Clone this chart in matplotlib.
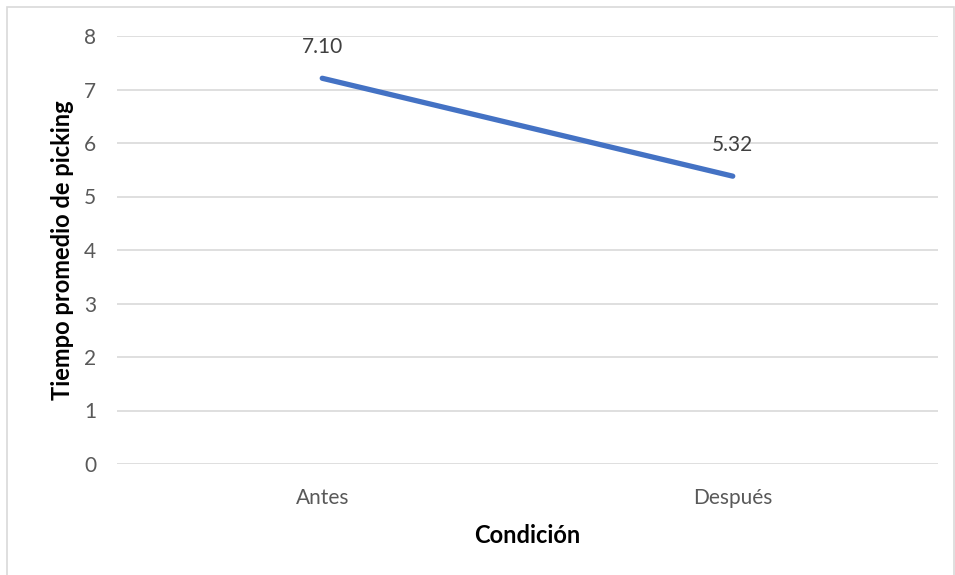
import matplotlib.pyplot as plt
from matplotlib.patches import Rectangle

# datos del grafico
condiciones = ["Antes", "Después"]
tiempo = [7.21, 5.38]
etiquetas = ["7.10", "5.32"]
yticks = [0, 1, 2, 3, 4, 5, 6, 7, 8]

plt.rcParams['font.family'] = ['Lato', 'DejaVu Sans']

fig = plt.figure(figsize=(9.55, 5.75), dpi=100)
ax = fig.add_axes([117/955, 1-464/575, (938-117)/955, (464-36)/575])

x = list(range(len(condiciones)))
ax.plot(x, tiempo, color='#4472C4', linewidth=3.8, solid_capstyle='round', zorder=3)
for xi, yi, lab in zip(x, tiempo, etiquetas):
    ax.annotate(lab, (xi, yi), xytext=(0, 15), textcoords='offset points',
                ha='center', va='bottom', fontsize=15, color='#404040')

ax.set_xlim(-0.5, 1.5)
ax.set_ylim(0, 8)
ax.set_yticks(yticks)
ax.set_xticks(x)
ax.set_xticklabels(condiciones)
ax.grid(axis='y', color='#D9D9D9', linewidth=1.2)
ax.set_axisbelow(True)
for s in ax.spines.values():
    s.set_visible(False)
ax.tick_params(length=0, labelsize=15, colors='#595959')
ax.tick_params(axis='y', pad=15)
ax.tick_params(axis='x', pad=17)
ax.set_ylabel('Tiempo promedio de picking', fontsize=17, fontweight='bold', labelpad=7)
ax.set_xlabel('Condición', fontsize=17, fontweight='bold', labelpad=12)

# borde del area del grafico
fig.patches.append(Rectangle((7/955, -0.01), 947/955, 1-7/575+0.01, transform=fig.transFigure,
                             fill=False, edgecolor='#D9D9D9', linewidth=1.2))

fig.savefig('out.png', dpi=100)
